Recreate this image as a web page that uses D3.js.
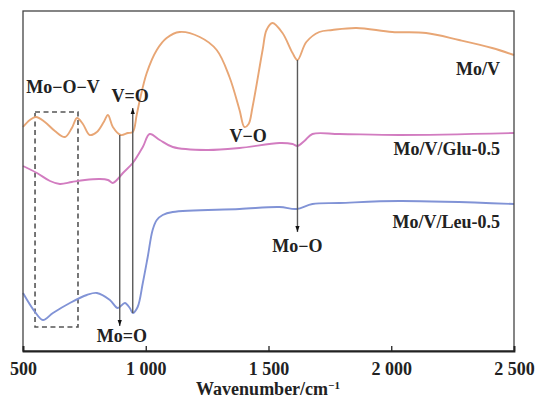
<!DOCTYPE html>
<html>
<head>
<meta charset="utf-8">
<style>
  body { margin: 0; background: #fff; }
  svg text { font-family: "Times New Roman", "Liberation Serif", "DejaVu Serif", serif; font-weight: bold; fill: #222; }
</style>
</head>
<body>
<svg width="537" height="401"></svg>
<script src="https://cdn.jsdelivr.net/npm/d3@7"></script>
<script>

// spectra: [wavenumber, relative transmittance (a.u.)]
var moV = [[500,224],[528,231],[553,234],[589,229],[630,220],[671,214],[699,223],[720,233],[744,227],
  [772,216],[801,219],[829,229],[846,236],[866,224],[898,216],[927,218],[947,219],[963,236],[976,251],
  [1004,278],[1045,301],[1085,313],[1138,319],[1220,314],[1289,301],[1341,274],[1382,241],[1402,224],
  [1419,227],[1435,244],[1476,301],[1492,321],[1516,328],[1557,318],[1598,298],[1618,291],[1654,309],
  [1707,319],[1760,321],[1858,323],[2004,319],[2142,318],[2276,311],[2411,303],[2500,296]];

var moVGlu = [[500,185],[557,178],[610,170],[650,167],[699,169],[752,171],[813,172],[846,171],[866,168],
  [886,172],[907,178],[947,188],[988,204],[1016,217],[1057,211],[1110,204],[1248,201],[1382,203],
  [1545,208],[1598,207],[1618,205],[1646,210],[1679,217],[1789,217],[2033,216],[2500,218]];

var moVLeu = [[500,58],[549,39],[581,31],[622,38],[691,48],[760,56],[801,58],[854,51],[886,43],[915,48],
  [935,43],[947,38],[967,44],[988,68],[1008,94],[1028,121],[1045,131],[1069,136],[1110,139],[1382,142],
  [1545,144],[1614,142],[1679,147],[1789,148],[2033,150],[2500,147]];

var seriesNames = ["Mo/V", "Mo/V/Glu-0.5", "Mo/V/Leu-0.5"];
var seriesColors = ["#e8a675", "#d27cc0", "#8193d6"];
var labelPos = [[2443, 276], [2443, 196], [2443, 123]]; // label anchor (right end)

var xTicks = [500, 1000, 1500, 2000, 2500];
var xTickLabels = ["500", "1 000", "1 500", "2 000", "2 500"];

// arrows: [wavenumber, from, to]
var arrows = [[894, 216, 25], [947, 38, 243], [1618, 291, 119]];
// peak labels: [text, wavenumber, value]
var peakLabels = [["Mo\u2212O\u2212V", 663, 258], ["V=O", 936, 249], ["Mo=O", 903, 9],
  ["V\u2212O", 1417, 209], ["Mo\u2212O", 1618, 99]];
var box = [549, 724, 239, 24];

var serif = "'Times New Roman', 'Liberation Serif', 'DejaVu Serif', serif";

var svg = d3.select("svg");
var x = d3.scaleLinear().domain([500, 2500]).range([23, 514]);
var y = d3.scaleLinear().domain([0, 340]).range([351, 11]);

svg.append("defs").append("marker")
  .attr("id", "head").attr("viewBox", "0 0 10 10")
  .attr("refX", 10).attr("refY", 5)
  .attr("markerWidth", 8).attr("markerHeight", 6)
  .attr("markerUnits", "userSpaceOnUse")
  .attr("orient", "auto")
  .append("path").attr("d", "M0,1.5L10,5L0,8.5Z").attr("fill", "#111");

var line = d3.line()
  .x(function(d) { return x(d[0]); })
  .y(function(d) { return y(d[1]); })
  .curve(d3.curveCatmullRom.alpha(0.5));

// dashed region
svg.append("rect")
  .attr("x", x(box[0])).attr("y", y(box[2]))
  .attr("width", x(box[1]) - x(box[0])).attr("height", y(box[3]) - y(box[2]))
  .attr("fill", "none").attr("stroke", "#555").attr("stroke-width", 1.6)
  .attr("stroke-dasharray", "5,3.5");

[moV, moVGlu, moVLeu].forEach(function(s, i) {
  svg.append("path").datum(s)
    .attr("d", line)
    .attr("fill", "none")
    .attr("stroke", seriesColors[i])
    .attr("stroke-width", 1.9);
  svg.append("text")
    .attr("x", x(labelPos[i][0])).attr("y", y(labelPos[i][1]))
    .attr("text-anchor", "end")
    .style("font-family", serif)
    .style("font-size", "18px")
    .text(seriesNames[i]);
});

svg.selectAll(".arrow").data(arrows).enter().append("line")
  .attr("class", "arrow")
  .attr("x1", function(d) { return x(d[0]); })
  .attr("x2", function(d) { return x(d[0]); })
  .attr("y1", function(d) { return y(d[1]); })
  .attr("y2", function(d) { return y(d[2]); })
  .attr("stroke", "#5a5a5a").attr("stroke-width", 1.4)
  .attr("marker-end", "url(#head)");

svg.selectAll(".peak").data(peakLabels).enter().append("text")
  .attr("class", "peak")
  .attr("x", function(d) { return x(d[1]); })
  .attr("y", function(d) { return y(d[2]); })
  .attr("text-anchor", "middle")
  .style("font-family", serif)
  .style("font-size", "18px")
  .text(function(d) { return d[0]; });

// frame
svg.append("rect")
  .attr("x", 23).attr("y", 11).attr("width", 491).attr("height", 340)
  .attr("fill", "none").attr("stroke", "#444").attr("stroke-width", 1.3);

var xAxis = d3.axisBottom(x).tickValues(xTicks)
  .tickSize(-5).tickPadding(11)
  .tickFormat(function(d, i) { return xTickLabels[i]; });
var gx = svg.append("g").attr("transform", "translate(0,351)").call(xAxis);
gx.attr("font-family", null);
gx.select(".domain").attr("stroke", "#222").attr("stroke-width", 1.8);
gx.selectAll(".tick line").attr("stroke", "#222").attr("stroke-width", 1.3);
gx.selectAll(".tick text")
  .style("font-family", serif)
  .style("font-weight", "bold").style("font-size", "18px").attr("fill", "#222");

var title = svg.append("text")
  .attr("x", 268).attr("y", 395)
  .attr("text-anchor", "middle")
  .style("font-family", serif)
  .style("font-size", "18px")
  .text("Wavenumber/cm");
title.append("tspan").text("\u22121").attr("dy", -6).style("font-size", "11px");

</script>
</body>
</html>
